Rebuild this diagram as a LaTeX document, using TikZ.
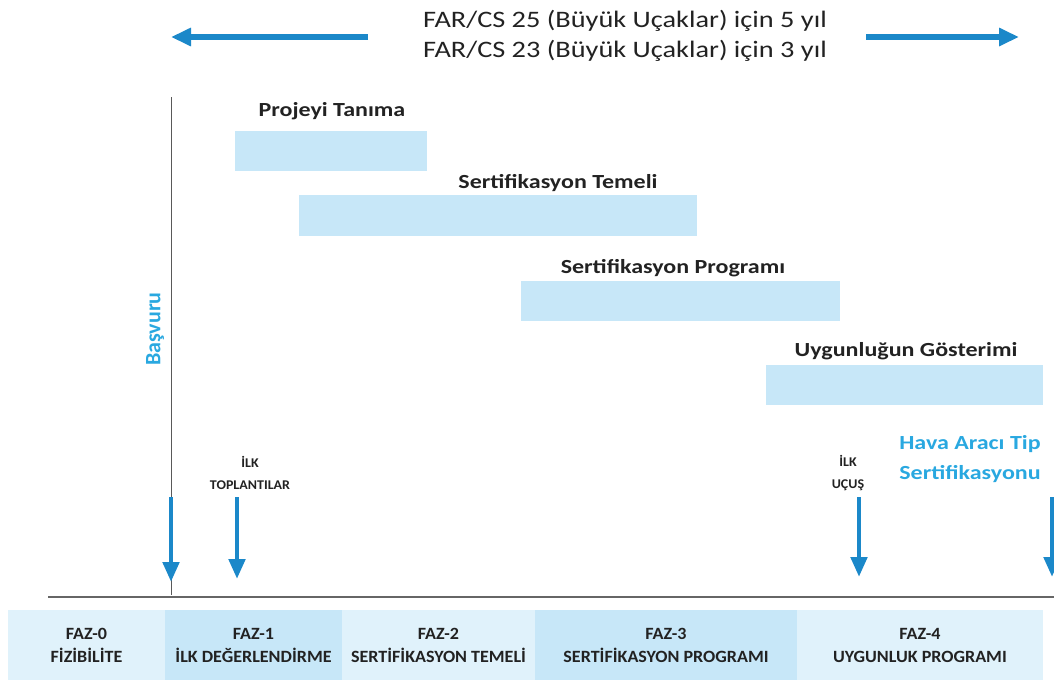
\documentclass[tikz,border=0pt]{standalone}
\usepackage{fontspec}
\setmainfont{Carlito}[FakeStretch=1.2]
\newfontfamily\uprightfont{Carlito}
\newfontfamily\smallcapsfont{Carlito}[FakeStretch=1.05]
\usetikzlibrary{arrows.meta}
\definecolor{barblue}{HTML}{C7E7F8}
\definecolor{phaselight}{HTML}{E0F2FB}
\definecolor{phasemid}{HTML}{C7E7F8}
\definecolor{arrowblue}{HTML}{1B88C9}
\definecolor{textblue}{HTML}{29A8E0}
\definecolor{inkgray}{HTML}{222222}
\tikzset{
  bar/.style={fill=barblue, draw=none, anchor=north west, inner sep=0pt},
  barlabel/.style={anchor=base, font=\bfseries\fontsize{15}{18}\selectfont, text=inkgray, inner sep=0pt},
  phase/.style={draw=none, align=center, inner sep=0pt, text=inkgray,
    font=\smallcapsfont\bfseries\fontsize{12.9}{17.25}\selectfont},
  event/.style={align=center, inner sep=0pt, text=inkgray,
    font=\smallcapsfont\bfseries\fontsize{10}{16.5}\selectfont},
  spanarrow/.style={draw=arrowblue, line width=3.8pt, -{Triangle[length=15pt,width=13pt]}},
  downarrow/.style={draw=arrowblue, line width=3.6pt, -{Triangle[length=15pt,width=12pt]}},
}
\begin{document}
\begin{tikzpicture}[x=0.75pt, y=-0.75pt]
\useasboundingbox (0,0) rectangle (1054,683);

% duration header with arrows pointing outwards
\node[align=center, inner sep=0pt, text=inkgray, font=\fontsize{17.7}{22.5}\selectfont]
  (dur) at (625,36) {FAR/CS 25 (Büyük Uçaklar) için 5 yıl\\FAR/CS 23 (Büyük Uçaklar) için 3 yıl};
\coordinate (lstart) at (368,37);
\coordinate (lend) at (171,37);
\coordinate (rstart) at (866,37);
\coordinate (rend) at (1019,37);
\draw[spanarrow] (lstart) -- (lend);
\draw[spanarrow] (rstart) -- (rend);

% application axis
\coordinate (axtop) at (171,97);
\coordinate (axbot) at (171,595);
\draw[draw=black!65, line width=0.6pt] (axtop) -- (axbot);
\node[rotate=90, inner sep=0pt, text=textblue, font=\uprightfont\bfseries\fontsize{16.5}{20}\selectfont]
  (basvuru) at (155,329) {Başvuru};

% activity bars (sizes in pt: 1 unit = 0.75pt)
\node[bar, minimum width=144pt, minimum height=30pt] (b1) at (235,131) {};
\node[barlabel] (l1) at (332,116) {Projeyi Tanıma};
\node[bar, minimum width=298.5pt, minimum height=30.75pt] (b2) at (299,195) {};
\node[barlabel] (l2) at (558,188) {Sertifikasyon Temeli};
\node[bar, minimum width=239.25pt, minimum height=30pt] (b3) at (521,281) {};
\node[barlabel] (l3) at (673,273) {Sertifikasyon Programı};
\node[bar, minimum width=207.75pt, minimum height=30pt] (b4) at (766,365) {};
\node[barlabel] (l4) at (906,356) {Uygunluğun Gösterimi};

% milestones
\node[event] (e1) at (250,473) {İLK\\TOPLANTILAR};
\node[event] (e2) at (848,473) {İLK\\UÇUŞ};
\node[align=center, inner sep=0pt, text=textblue, font=\bfseries\fontsize{15}{22.5}\selectfont]
  (e3) at (970,459) {Hava Aracı Tip\\Sertifikasyonu};

\coordinate (a0s) at (171,497); \coordinate (a0e) at (171,582);
\coordinate (a1s) at (237,497); \coordinate (a1e) at (237,579);
\coordinate (a2s) at (859,497); \coordinate (a2e) at (859,577);
\coordinate (a3s) at (1052,497); \coordinate (a3e) at (1052,577);
\draw[downarrow] (a0s) -- (a0e);
\draw[downarrow] (a1s) -- (a1e);
\draw[downarrow] (a2s) -- (a2e);
\draw[downarrow] (a3s) -- (a3e);

% time axis
\coordinate (tl) at (48,597);
\coordinate (tr) at (1054,597);
\draw[draw=black!60, line width=1.5pt] (tl) -- (tr);

% phase strip
\fill[phaselight] (8,610) rectangle (165,680);
\fill[phasemid] (165,610) rectangle (342,680);
\fill[phaselight] (342,610) rectangle (535,680);
\fill[phasemid] (535,610) rectangle (797,680);
\fill[phaselight] (797,610) rectangle (1043,680);
\node[phase] (f0) at (86.5,645) {FAZ-0\\FİZİBİLİTE};
\node[phase] (f1) at (253.5,645) {FAZ-1\\İLK DEĞERLENDİRME};
\node[phase] (f2) at (438.5,645) {FAZ-2\\SERTİFİKASYON TEMELİ};
\node[phase] (f3) at (666,645) {FAZ-3\\SERTİFİKASYON PROGRAMI};
\node[phase] (f4) at (920,645) {FAZ-4\\UYGUNLUK PROGRAMI};
\end{tikzpicture}
\end{document}
